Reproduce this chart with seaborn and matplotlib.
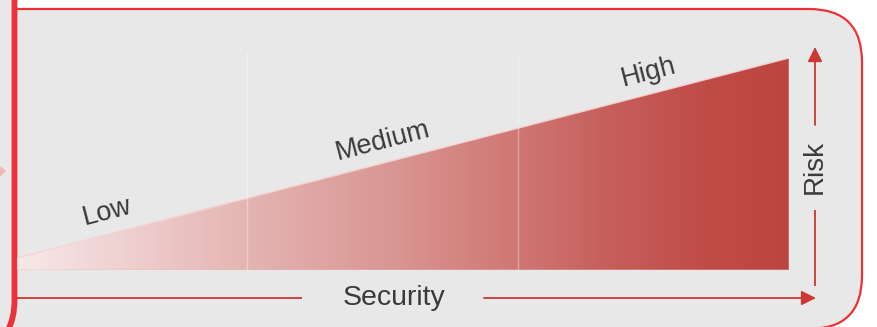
import numpy as np
import matplotlib
matplotlib.use("Agg")
import matplotlib.pyplot as plt
import seaborn as sns
import pandas as pd
from matplotlib.colors import LinearSegmentedColormap
from matplotlib.patches import FancyBboxPatch, Polygon, Rectangle, PathPatch
from matplotlib.path import Path

# ---- data ----
levels = ["Low", "Medium", "High"]
security_edges = [0.0, 0.298, 0.649, 1.0]      # segment boundaries along Security axis
risk_edges = [0.057, 0.338, 0.669, 1.0]        # wedge height at those boundaries
label_pos = [0.39, 0.50, 0.48]                 # label position inside each segment (fraction)
x_label = "Security"
y_label = "Risk"

sns.set_theme(style="white")
plt.rcParams['font.family'] = ['Liberation Sans', 'DejaVu Sans']

W, H = 877, 327
fig = plt.figure(figsize=(W / 100, H / 100), dpi=100)
fig.patch.set_facecolor('white')

GRAY = '#e8e8e8'
RED = '#ec3138'
ARROW = '#cc3834'
TXT = '#3a3a3a'

# ---- decoration layer (pixel coordinates) ----
bg = fig.add_axes([0, 0, 1, 1])
bg.set_xlim(0, W)
bg.set_ylim(H, 0)
bg.axis('off')

box = FancyBboxPatch((-80, 9), 862 + 80, 320, boxstyle="round,pad=0,rounding_size=53",
                     facecolor=GRAY, edgecolor=RED, lw=1.6, zorder=1)
bg.add_patch(box)
bg.add_patch(Rectangle((0, 0), 14, H, facecolor=GRAY, edgecolor='none', zorder=2))
thick = Path([(14.5, -5), (14.5, 300), (14.5, 318), (8, 330)],
             [Path.MOVETO, Path.LINETO, Path.CURVE3, Path.CURVE3])
bg.add_patch(PathPatch(thick, facecolor='none', edgecolor=RED, lw=4.2, zorder=3))
bg.add_patch(Polygon([(0, 166), (6, 171), (0, 177)], closed=True, facecolor='#f4b8b0',
                     edgecolor='none', zorder=3))

# Security arrow
bg.plot([17, 302], [298, 298], color=ARROW, lw=1.3, zorder=3, solid_capstyle='butt')
bg.annotate('', xy=(816, 298), xytext=(484, 298),
            arrowprops=dict(arrowstyle='-|>', color=ARROW, lw=1.3, mutation_scale=22,
                            shrinkA=0, shrinkB=0), zorder=3)
bg.text(394, 298, x_label, ha='center', va='center', fontsize=20.5, color=TXT, zorder=4)

# Risk arrow
bg.plot([815, 815], [286, 210], color=ARROW, lw=1.3, zorder=3, solid_capstyle='butt')
bg.annotate('', xy=(815, 47), xytext=(815, 125),
            arrowprops=dict(arrowstyle='-|>', color=ARROW, lw=1.3, mutation_scale=22,
                            shrinkA=0, shrinkB=0), zorder=3)
bg.text(815, 167, y_label, ha='center', va='center', rotation=90, fontsize=20,
        color=TXT, zorder=4)

# ---- wedge chart ----
ax = fig.add_axes([17 / W, (H - 270) / H, 772 / W, 212 / H])
ax.set_xlim(0, 1)
ax.set_ylim(0, 1)
ax.patch.set_alpha(0)
ax.axis('off')

cmap = LinearSegmentedColormap.from_list("risk", [
    (0.00, '#f8e8e8'), (0.10, '#f1d7d7'), (0.30, '#e4b4b2'), (0.50, '#d89490'),
    (0.65, '#cf7773'), (0.77, '#c65e5a'), (0.90, '#bf4b47'), (1.00, '#bd4541')])
grad = np.linspace(0, 1, 512).reshape(1, -1)
im = ax.imshow(grad, extent=[0, 1, 0, 1], aspect='auto', cmap=cmap, origin='lower',
               interpolation='bilinear', zorder=2)
xs = np.array(security_edges)
ys = np.array(risk_edges)
wedge = Polygon(np.column_stack([np.r_[xs, xs[::-1]], np.r_[ys, np.zeros_like(ys)]]),
                closed=True, transform=ax.transData, facecolor='none', edgecolor='none')
ax.add_patch(wedge)
im.set_clip_path(wedge)
outline = Polygon(wedge.get_xy(), closed=True, facecolor='none', edgecolor='#f2b4b4',
                  lw=0.8, alpha=0.6, zorder=3)
ax.add_patch(outline)

df = pd.DataFrame({"security": security_edges, "risk": risk_edges})
sns.lineplot(data=df, x="security", y="risk", ax=ax, color='#f6dcdc', lw=1.0,
             alpha=0.7, zorder=3)

for e in security_edges[1:-1]:
    ax.plot([e, e], [0, 1.025], color='white', lw=1.0, alpha=0.35, zorder=4,
            clip_on=False)

angle = np.degrees(np.arctan2((ys[-1] - ys[0]) * 212, (xs[-1] - xs[0]) * 772))
for i, name in enumerate(levels):
    lx = xs[i] + label_pos[i] * (xs[i + 1] - xs[i])
    ly = np.interp(lx, xs, ys)
    ax.annotate(name, xy=(lx, ly), xytext=(0, 16), textcoords='offset points',
                ha='center', va='center', rotation=angle, rotation_mode='anchor',
                fontsize=19.5, color=TXT, annotation_clip=False, zorder=5)

fig.savefig("out.png", dpi=100, facecolor=fig.get_facecolor())
